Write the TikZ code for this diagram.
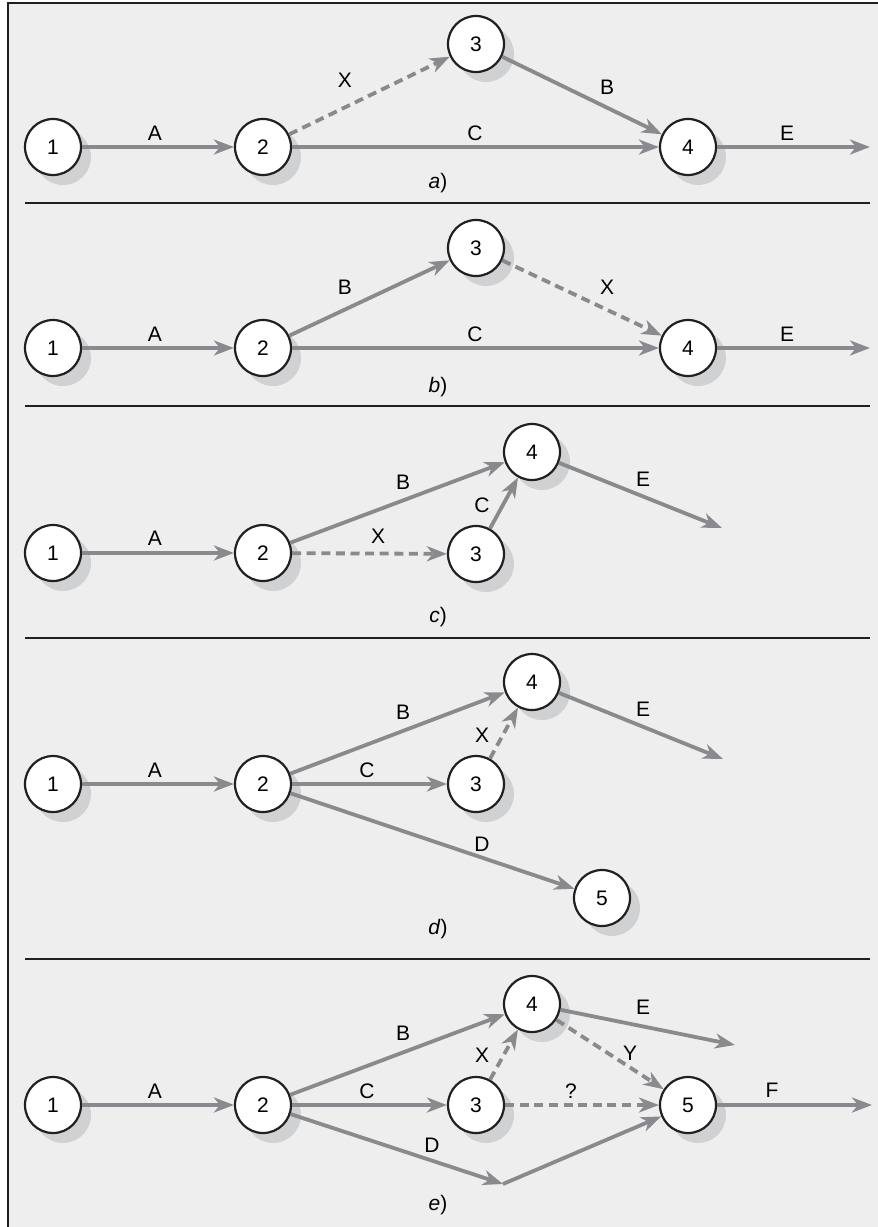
\documentclass[tikz,border=0pt]{standalone}
\usepackage{fontspec}
\setmainfont{Liberation Sans}
\usetikzlibrary{arrows.meta, shadows}
\definecolor{PanelGray}{HTML}{EEEEEE}
\definecolor{ShadowGray}{HTML}{D0D1D3}
\definecolor{ArrowGray}{HTML}{898A8D}
\definecolor{FrameDark}{HTML}{231F20}

\begin{document}
\begin{tikzpicture}[x=0.5pt, y=-0.5pt,
  event/.style={circle, draw=FrameDark, line width=1.1pt, fill=white,
      minimum size=28pt, inner sep=0pt, font=\fontsize{10.5}{12}\selectfont,
      drop shadow={shadow xshift=5pt, shadow yshift=-5pt, fill=ShadowGray, opacity=1}},
  act/.style={draw=ArrowGray, line width=1.9pt, -{Stealth[length=10pt, width=7.5pt, inset=3pt]}},
  dummy/.style={act, dash pattern=on 4.5pt off 2.8pt},
  lbl/.style={font=\fontsize{10.5}{12}\selectfont, inner sep=0pt},
  sep/.style={draw=FrameDark, line width=0.6pt}]
\useasboundingbox (0,0) rectangle (878,1227);
\fill[PanelGray] (8,3) rectangle (878,1227);
\draw[FrameDark, line width=1.2pt] (8,1227) -- (8,3) -- (878,3);
\foreach \y in {203,406,638,959} \draw[sep] (25,\y) -- (870,\y);

% a)
\node[event] (a1) at (53,147) {1};
\node[event] (a2) at (263,147) {2};
\node[event] (a3) at (476,44) {3};
\node[event] (a4) at (688,147) {4};
\coordinate (aE) at (870,147);
\draw[act] (a1) -- (a2);
\draw[dummy] (a2) -- (a3);
\draw[act] (a3) -- (a4);
\draw[act] (a2) -- (a4);
\draw[act] (a4) -- (aE);
\node[lbl] (aA) at (155,133) {A};
\node[lbl] (aX) at (345,80) {X};
\node[lbl] (aB) at (607,87) {B};
\node[lbl] (aC) at (475,133) {C};
\node[lbl] (aEl) at (787,133) {E};
\node[lbl] (acap) at (438,183) {\textit{a})};

% b)
\node[event] (b1) at (53,348) {1};
\node[event] (b2) at (263,348) {2};
\node[event] (b3) at (476,248) {3};
\node[event] (b4) at (688,348) {4};
\coordinate (bE) at (870,348);
\draw[act] (b1) -- (b2);
\draw[act] (b2) -- (b3);
\draw[dummy] (b3) -- (b4);
\draw[act] (b2) -- (b4);
\draw[act] (b4) -- (bE);
\node[lbl] (bA) at (155,334) {A};
\node[lbl] (bB) at (345,287) {B};
\node[lbl] (bX) at (607,287) {X};
\node[lbl] (bC) at (475,334) {C};
\node[lbl] (bEl) at (787,334) {E};
\node[lbl] (bcap) at (438,387) {\textit{b})};

% c)
\node[event] (c1) at (53,553) {1};
\node[event] (c2) at (263,553) {2};
\node[event] (c3) at (476,554) {3};
\node[event] (c4) at (532,452) {4};
\coordinate (cE) at (722,528);
\draw[act] (c1) -- (c2);
\draw[act] (c2) -- (c4);
\draw[dummy] (c2) -- (c3);
\draw[act] (c3) -- (c4);
\draw[act] (c4) -- (cE);
\node[lbl] (cA) at (155,538) {A};
\node[lbl] (cB) at (403,482) {B};
\node[lbl] (cX) at (378,536) {X};
\node[lbl] (cC) at (482,505) {C};
\node[lbl] (cEl) at (643,479) {E};
\node[lbl] (ccap) at (438,617) {\textit{c})};

% d)
\node[event] (d1) at (53,784) {1};
\node[event] (d2) at (263,784) {2};
\node[event] (d3) at (476,784) {3};
\node[event] (d4) at (532,682) {4};
\node[event] (d5) at (602,898) {5};
\coordinate (dE) at (723,759);
\draw[act] (d1) -- (d2);
\draw[act] (d2) -- (d4);
\draw[act] (d2) -- (d3);
\draw[dummy] (d3) -- (d4);
\draw[act] (d2) -- (d5);
\draw[act] (d4) -- (dE);
\node[lbl] (dA) at (155,770) {A};
\node[lbl] (dB) at (403,712) {B};
\node[lbl] (dC) at (367,770) {C};
\node[lbl] (dX) at (482,735) {X};
\node[lbl] (dD) at (482,844) {D};
\node[lbl] (dEl) at (643,709) {E};
\node[lbl] (dcap) at (438,929) {\textit{d})};

% e)
\node[event] (e1) at (53,1105) {1};
\node[event] (e2) at (263,1105) {2};
\node[event] (e3) at (476,1105) {3};
\node[event] (e4) at (532,1004) {4};
\node[event] (e5) at (688,1105) {5};
\coordinate (eE) at (735,1045);
\coordinate (eD) at (503,1184);
\coordinate (eF) at (872,1105);
\draw[act] (e1) -- (e2);
\draw[act] (e2) -- (e4);
\draw[act] (e2) -- (e3);
\draw[dummy] (e3) -- (e4);
\draw[act] (e2) -- (eD);
\draw[act] (eD) -- (e5);
\draw[dummy] (e3) -- (e5);
\draw[dummy] (e4) -- (e5);
\draw[act] (e4) -- (eE);
\draw[act] (e5) -- (eF);
\node[lbl] (eA) at (155,1091) {A};
\node[lbl] (eB) at (403,1033) {B};
\node[lbl] (eC) at (367,1091) {C};
\node[lbl] (eX) at (482,1055) {X};
\node[lbl] (eDl) at (432,1145) {D};
\node[lbl] (eQ) at (571,1091) {?};
\node[lbl] (eY) at (630,1053) {Y};
\node[lbl] (eEl) at (643,1007) {E};
\node[lbl] (eFl) at (772,1090) {F};
\node[lbl] (ecap) at (438,1205) {\textit{e})};
\end{tikzpicture}
\end{document}
